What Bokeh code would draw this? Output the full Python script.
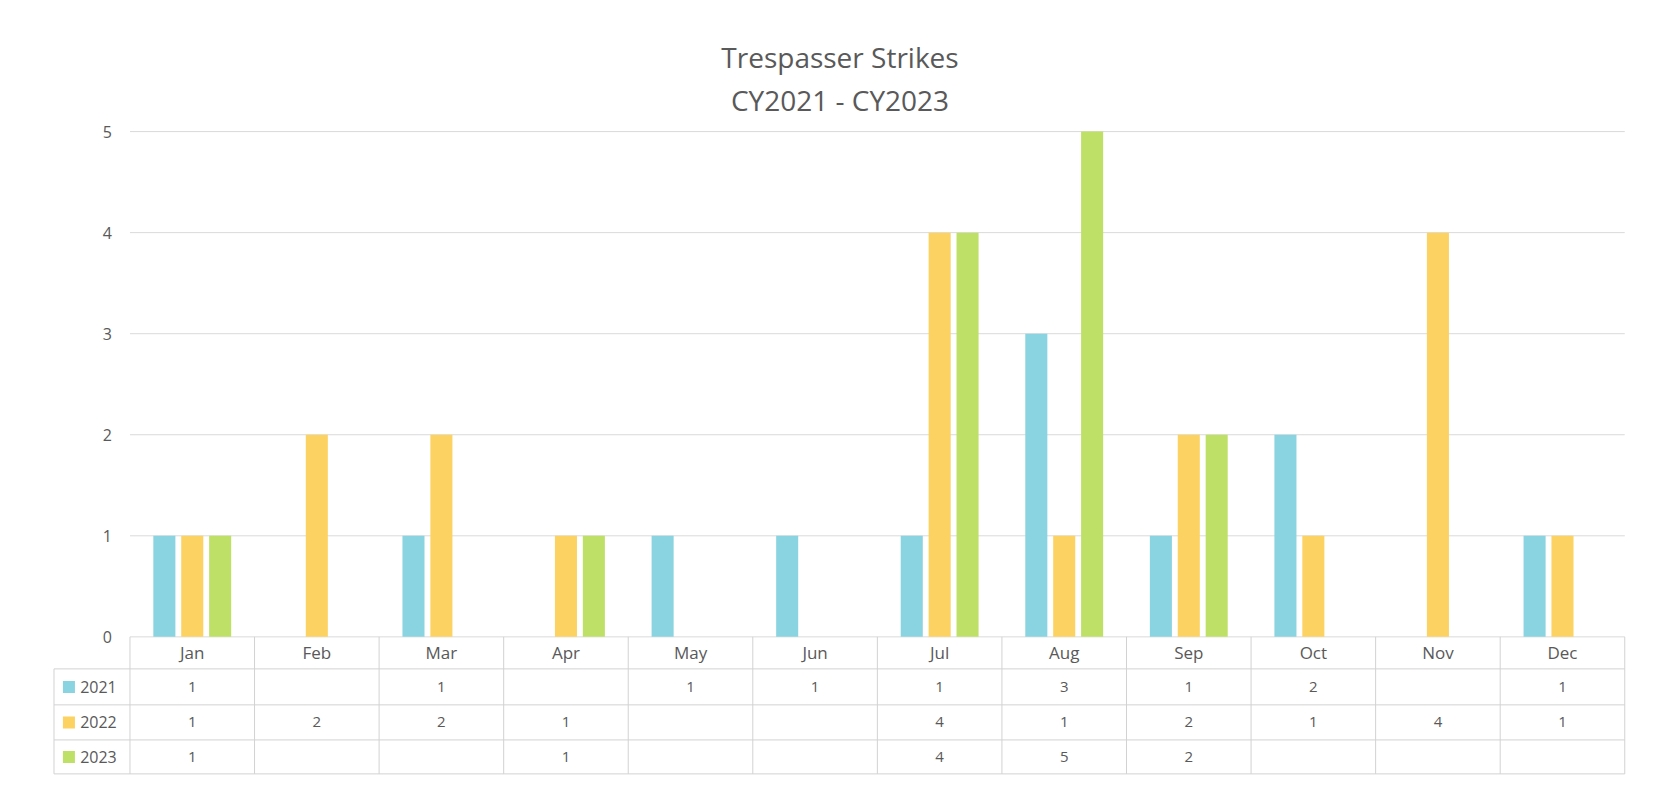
from bokeh.plotting import figure
from bokeh.models import Range1d, FixedTicker, LinearAxis, Title
from bokeh.embed import file_html
from bokeh.resources import INLINE
from bokeh.core.properties import value

# ---------------- data ----------------
months = ["Jan", "Feb", "Mar", "Apr", "May", "Jun", "Jul", "Aug", "Sep", "Oct", "Nov", "Dec"]
years = ["2021", "2022", "2023"]
s2021 = [1, None, 1, None, 1, 1, 1, 3, 1, 2, None, 1]
s2022 = [1, 2, 2, 1, None, None, 4, 1, 2, 1, 4, 1]
s2023 = [1, None, None, 1, None, None, 4, 5, 2, None, None, None]
series = [s2021, s2022, s2023]
colors = ["#8AD3E0", "#FCD262", "#BFE067"]
y_ticks = [0, 1, 2, 3, 4, 5]
title_main = "Trespasser Strikes"
title_sub = "CY2021 - CY2023"

# ---------------- layout constants ----------------
FONT = value("Open Sans")
TXT = "#595959"
GRID = "#dadada"
TABLE = "#d2d2d2"
bar_w = 0.177
offsets = [-0.224, 0.0, 0.224]
legend_left = -0.61
header_bottom = -0.317
row_bottoms = [-0.673, -1.020, -1.356]
row_tops = [header_bottom] + row_bottoms[:-1]
row_centers = [(a + b) / 2 for a, b in zip(row_tops, row_bottoms)]
n = len(months)

p = figure(width=1636, height=794,
           x_range=Range1d(-0.63, 12.03), y_range=Range1d(-1.56, 5.08),
           output_backend="svg", toolbar_location=None,
           x_axis_location=None, y_axis_location=None,
           min_border_left=51, min_border_right=8,
           min_border_top=123, min_border_bottom=0)
p.outline_line_color = None
p.grid.visible = False
p.background_fill_color = "white"
p.border_fill_color = "white"

# titles
p.title.text = title_main
p.title.align = "center"
p.title.offset = 16
p.title.text_font = "Open Sans"
p.title.text_font_size = "28px"
p.title.text_font_style = "normal"
p.title.text_color = TXT
p.title.standoff = -5
sub = Title(text=title_sub, align="center", offset=16, text_font="Open Sans",
            text_font_size="28px", text_font_style="normal", text_color=TXT,
            standoff=10)
p.add_layout(sub, "above")

# y axis at x = 0
yax = LinearAxis(fixed_location=0, ticker=FixedTicker(ticks=y_ticks))
yax.axis_line_color = None
yax.major_tick_line_color = None
yax.minor_tick_line_color = None
yax.major_tick_out = 0
yax.major_label_standoff = 18
yax.major_label_text_font = "Open Sans"
yax.major_label_text_font_size = "16px"
yax.major_label_text_color = TXT
p.add_layout(yax, "left")

# horizontal gridlines over the month area
p.segment(x0=[0] * len(y_ticks), x1=[n] * len(y_ticks), y0=y_ticks, y1=y_ticks,
          line_color=GRID, line_width=1)

# bars
for vals, off, col in zip(series, offsets, colors):
    xs = [i + 0.5 + off for i, v in enumerate(vals) if v is not None]
    tops = [v for v in vals if v is not None]
    p.vbar(x=xs, top=tops, bottom=0, width=bar_w, fill_color=col, line_color=None)

# data table lines
hy = [header_bottom] + row_bottoms
p.segment(x0=[legend_left] * len(hy), x1=[n] * len(hy), y0=hy, y1=hy,
          line_color=TABLE, line_width=1)
vx = list(range(n + 1))
p.segment(x0=vx, x1=vx, y0=[0] * len(vx), y1=[row_bottoms[-1]] * len(vx),
          line_color=TABLE, line_width=1)
p.segment(x0=[legend_left], x1=[legend_left], y0=[header_bottom], y1=[row_bottoms[-1]],
          line_color=TABLE, line_width=1)

# month header
p.text(x=[i + 0.5 for i in range(n)], y=[header_bottom / 2] * n, text=months,
       text_align="center", text_baseline="middle", text_font=FONT,
       text_font_size="17px", text_color=TXT)

# legend column
p.scatter(x=[legend_left + 0.12] * 3, y=row_centers, marker="square", size=12,
          fill_color=colors, line_color=None)
p.text(x=[legend_left + 0.21] * 3, y=row_centers, text=years,
       text_align="left", text_baseline="middle", text_font=FONT,
       text_font_size="16px", text_color=TXT)

# values in table
for vals, yc in zip(series, row_centers):
    xs = [i + 0.5 for i, v in enumerate(vals) if v is not None]
    ts = [str(v) for v in vals if v is not None]
    p.text(x=xs, y=[yc] * len(xs), text=ts, text_align="center",
           text_baseline="middle", text_font=FONT, text_font_size="15px",
           text_color=TXT)

open("out.html", "w").write(file_html(p, INLINE))
